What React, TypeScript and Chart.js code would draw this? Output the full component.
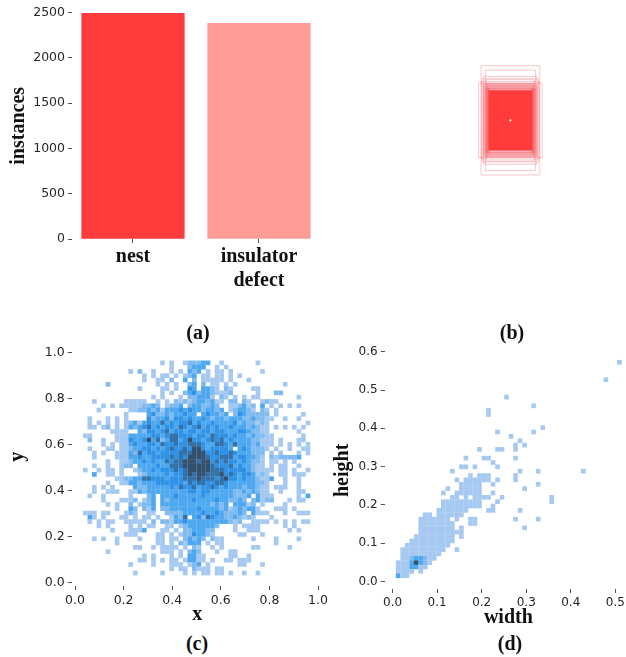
import React, { useEffect, useRef } from "react";
import { Chart, registerables } from "chart.js";

Chart.register(...registerables);

const SERIF = "'Liberation Serif', serif";
const SANS = "'DejaVu Sans', sans-serif";
const INK = "#262626";

// (a) instances per class
const categories: (string | string[])[] = ["nest", ["insulator", "defect"]];
const instances = [2492, 2382];
const barColors = ["#ff3b3b", "#ff9c97"];
const instanceTicks = [0, 500, 1000, 1500, 2000, 2500];

// (b) box sizes, as fractions of the image, all centred
const boxWidths = [0.277, 0.236, 0.25, 0.264, 0.3, 0.273, 0.25, 0.227, 0.255, 0.236, 0.245, 0.227, 0.218, 0.214, 0.236, 0.223, 0.209, 0.227, 0.218, 0.209, 0.2, 0.214];
const boxHeights = [0.514, 0.473, 0.414, 0.391, 0.35, 0.364, 0.345, 0.382, 0.336, 0.327, 0.318, 0.336, 0.345, 0.318, 0.3, 0.3, 0.327, 0.309, 0.291, 0.3, 0.309, 0.282];
const coreBox = [0.205, 0.28];

// (c) x/y histogram, read top row first; digit = colour level
const xyRows = [
  "..... ..... ..... ..1.1 ..122 233.. 1.... ...1. ..... .....",
  "..... ..... ..... ....1 ...23 33..1 .1... ..... ..... .....",
  "..... ..... 1.2.. 1...1 .1.32 3.1.1 1.1.. ....1 ..... .....",
  "..... ..... ...1. 1.11. 1.123 .11.1 1.1.1 ..... ..... .....",
  "..... ..... ...1. .11.2 ..3.2 .1111 1.1.. .1... ..... .....",
  "..... 2.... ..... .1.1. 1..23 .2.11 .1.1. ..... ....1 .....",
  "..... ..... ..1.. ..11. 1..43 .3321 .21.. ..11. ..... .....",
  "..... ..... ..... ..1.1 ..234 23321 112.. ...1. ..22. .....",
  "..... ..... ..... 1.1.. .1.22 3331. 21.1. 1.11. ..... ..1..",
  "..1.. ....1 1111. .1.1. 21212 33231 1.22. 21..1 211.. .....",
  "....1 .1.11 1112232.12 23.2332232 ..112312.3 .1.1. 1.1..",
  "...1. ..... 1122323133 3434332332 3.123321.2 1.1.. .....",
  "..... ....1 ....342232 33433.3433 23.2432222 2.1.. ...1.",
  ".1... 1.1.1 ....423342 4434334323 3233322322 11..1 ..1..",
  ".1.1. 1.1.1 2313433534 3445343343 3334232212 1.... ....1",
  ".11.1 2.1.1 3234534344 3543453434 3343332321 1.1.1 .1.1.",
  "..... .1111 ..32443453 4434434434 4333443221 1.... ..1..",
  "11... ..111 3333344345 5444344354 4434332322 11... ...1.",
  ".2..1 ..111 4334635235 5346443454 5343333221 11.1. ..11.",
  "....1 .1.11 3433443544 5445554335 5435333231 11.1. 1.1.1",
  ".1... 11.11 2334434345 4454664344 443.343222 1.1.. 1..11",
  "..1.1 ..111 3253443444 4555666445 4454333222 .1.1. ..1.1",
  "..1.. ..111 3343344445 4546666544 5553443321 .2122 223..",
  "..... 1..11 2334343354 5566656645 4544343221 .11.1 .1...",
  "..1.. 1..12 2.33334335 5566666654 4453433211 .1.11 ..1..",
  "1..1. 11.1. .123343444 5456666655 5444443211 11.11 .1..1",
  "..3.. 11.1. ..12333343 4456566555 6454344312 1..11 .111.",
  "..... ..112 2335544434 4455565554 5644343321 13..1 ..1..",
  "..... 1..11 3323334444 4435455445 5433333322 1...1 ..1..",
  "..1.1 .1... .322333334 3544534454 3433323321 1.111 ..1..",
  "..1.. 111.. 1132333333 3334434433 3332232321 1..1. ..11.",
  ".1..1 ..... 1...23.333 4333334333 3332223.31 11... ..1.3",
  "....1 ...11 12.123.323 3333433334 332232.231 22... 1.11.",
  "..... 1.1.. 2.1223.333 3333333323 23.33312.1 ....1 .....",
  "..... ..1.. 32.213.223 3333343333 231232331. ..111 .1...",
  "111.1 1...1 21..11..22 2233334334 322232.311 1...1 ..111",
  ".31.1 ...11 .1.11.1..1 325.342543 32232121.. .1... .....",
  ".1.1. 11..1 1111. 2.221 33433 33333 33212 ..111 1.1.1 .1.11",
  "...1. 1.... 1.1.1 1..11 .1233 33332 ...1. 1111. ....1 .1...",
  "..... .1... 1113. ..11. 1.223 3322. ...1. .111. ..... 1.1..",
  "..... ....1 11... .11.1 .1224 3321. ....1 1...1 ..... .....",
  "..1.1 ..1.. ..1.. .11.1 1.232 32.21 1.... ..1.. ..1.. ..1..",
  "..... ..1.. ..... .11.1 .2133 3.1.1 1.... ..... ..1.. .....",
  "..... ..... .11.. 1.111 1.1.2 1..1. 1.... ..11. ..... 1....",
  "..... 1.... ..... ..111 .1.23 2...1 ..11. ..... ..... .....",
  "..... ..... ...1. 1...1 .1.33 11... ..11. .1... ..... .....",
  "..... ..... ..11. 1.1.1 1.133 11.1. .11.1 11... ..... .....",
  "..... ..... 1.... 1...1 11.12 3.1.. ....1 1...1 ..... .....",
  "..... ..... ..... ....1 .11.2 111.1 1.... ..... ..... .....",
  "..... ..... .1... ..1.. ..1.1 .11.1 1.1.. 1..1. ..... .....",
];

// (d) width/height histogram, read top row first
const whRows = [
  ".......... .......... .......... .......... .........1",
  "",
  "",
  "",
  ".......... .......... .......... .......... ......1",
  "",
  "",
  "",
  ".......... .......... ....1",
  "",
  ".......... .......... .......... 1",
  ".......... .......... 1",
  ".......... .......... 1",
  "",
  "",
  ".......... .......... .......... ..1",
  ".......... .......... ..1....... 1",
  ".......... .......... .....1",
  ".......... .......... .......1",
  ".......... .......... ......1.1",
  ".......... ........1. ..11..1",
  "",
  ".......... .....1...1 1.....1",
  ".......... .......... .1",
  ".......... ....11.1.. ..1",
  ".......... ..1....... .......1.. .1........ .1",
  ".......... ......1.11 1.....1",
  ".......... ...1.11111 1.1...1",
  ".......... ....11111. .1........ .1",
  ".......... .1..11111. ........1",
  ".......... 1..111111. .1",
  ".......... ..11.1.111 1..1...... ....1",
  ".......... 111111111. ..1....... ....1",
  ".......... 111111111. .1",
  ".........1 111111.... 11.....1",
  "......11.1 11111",
  ".....11111 11.1..11.. ......1... .1",
  ".....11111 111...11",
  ".....11111 111.1..... ........1",
  ".....11111 11111",
  "....111111 111.1",
  "...1111111 111",
  "..11111111 11",
  ".111111111 1..1",
  ".111111111",
  ".11233211",
  "11136321",
  "1113311",
  "1111.1",
  "311",
];

const levelColors = ["#a6c9f1", "#7fbaf0", "#4da8f0", "#2f92e6", "#3271a9", "#34506f"];

const xyUnit = ["0.0", "0.2", "0.4", "0.6", "0.8", "1.0"].map(Number);
const widthTicks = [0, 0.1, 0.2, 0.3, 0.4, 0.5];
const heightTicks = [0, 0.1, 0.2, 0.3, 0.4, 0.5, 0.6];

const captions = [
  { text: "(a)", x: 198, y: 332 },
  { text: "(b)", x: 512, y: 332 },
  { text: "(c)", x: 197, y: 643 },
  { text: "(d)", x: 510, y: 643 },
];

type Cell = { x: number; y: number; level: number };

function cellsFrom(rows: string[], x0: number, dx: number, yTop: number, dy: number): Cell[] {
  const out: Cell[] = [];
  rows.forEach((row, j) => {
    row
      .replace(/ /g, "")
      .split("")
      .forEach((c, i) => {
        if (c !== ".") out.push({ x: x0 + dx * (i + 0.5), y: yTop - dy * (j + 0.5), level: Number(c) });
      });
  });
  return out;
}

const tickStyle = { size: 12.5, family: SANS };
const titleFont = { size: 20, weight: "bold" as const, family: SERIF };

function axisBase(ticksAt: number[], min: number, max: number, digits: number, fixed: number, horizontal: boolean, fontSize = 12.5, pad = 3) {
  return {
    type: "linear" as const,
    min,
    max,
    offset: false,
    border: { display: false },
    grid: { offset: false, drawOnChartArea: false, drawTicks: true, tickLength: 4, tickColor: "#555", tickWidth: 1 },
    ticks: {
      color: INK,
      font: { ...tickStyle, size: fontSize },
      padding: pad,
      autoSkip: false,
      maxRotation: 0,
      callback: (v: any) => Number(v).toFixed(digits),
    },
    afterBuildTicks: (s: any) => {
      s.ticks = ticksAt.map((value) => ({ value }));
    },
    afterFit: (s: any) => {
      if (horizontal) {
        s.height = fixed;
        s.paddingLeft = 0;
        s.paddingRight = 0;
      } else {
        s.width = fixed;
        s.paddingTop = 0;
        s.paddingBottom = 0;
      }
    },
  };
}

function useChart(make: (canvas: HTMLCanvasElement) => Chart) {
  const ref = useRef<HTMLCanvasElement | null>(null);
  useEffect(() => {
    const c = make(ref.current!);
    return () => c.destroy();
  }, []);
  return ref;
}

const baseOptions = {
  responsive: false,
  animation: false as const,
  events: [] as any[],
  plugins: { legend: { display: false }, tooltip: { enabled: false }, title: { display: false } },
};

function heatChart(canvas: HTMLCanvasElement, cells: Cell[], side: number, padding: any, x: any, y: any) {
  return new Chart(canvas, {
    type: "scatter",
    data: {
      datasets: [
        {
          data: cells as any,
          pointStyle: "rect",
          pointRadius: side * Math.SQRT2 * 0.5,
          pointBorderWidth: 0,
          pointBackgroundColor: cells.map((c) => levelColors[c.level - 1]),
        },
      ],
    },
    options: { ...baseOptions, layout: { padding }, scales: { x, y }, clip: false } as any,
  });
}

export default function App() {
  const barRef = useChart((canvas) => {
    const x = axisBase([0, 1], -0.484, 1.5, 0, 61, true);
    x.ticks.callback = (v: any) => categories[Number(v)] as any;
    (x.ticks as any).font = titleFont;
    (x.ticks as any).color = "#111";
    x.ticks.padding = 2;
    const y = axisBase(instanceTicks, 0, 2500, 0, 72, false);
    (y as any).title = { display: true, text: "instances", color: "#111", font: titleFont, padding: { top: 7, bottom: 0 } };
    return new Chart(canvas, {
      type: "bar",
      data: {
        datasets: [
          {
            data: instances.map((v, i) => ({ x: i, y: v })) as any,
            backgroundColor: barColors,
            barThickness: 102.6,
          },
        ],
      },
      options: { ...baseOptions, layout: { padding: { top: 12.7, right: 18, bottom: 0, left: 0 } }, scales: { x, y } } as any,
    });
  });

  const boxRef = useChart((canvas) => {
    const corners = (w: number, h: number) => [
      { x: -w / 2, y: -h / 2 },
      { x: w / 2, y: -h / 2 },
      { x: w / 2, y: h / 2 },
      { x: -w / 2, y: h / 2 },
      { x: -w / 2, y: -h / 2 },
    ];
    const outlines = boxWidths.map((w, i) => ({
      type: "scatter" as const,
      data: corners(w, boxHeights[i]),
      showLine: true,
      borderColor: "rgba(240,70,80,0.3)",
      borderWidth: 1,
      pointRadius: 0,
      fill: false,
      tension: 0.00001,
      order: 2,
    }));
    return new Chart(canvas, {
      type: "scatter",
      data: {
        datasets: [
          { data: [{ x: 0, y: 0 }], pointRadius: 1.1, pointBackgroundColor: "#fff", pointBorderWidth: 0, order: 0 },
          {
            data: corners(coreBox[0], coreBox[1]),
            showLine: true,
            fill: "shape",
            backgroundColor: "#ff3b3b",
            borderColor: "rgba(255,59,59,0.6)",
            borderWidth: 2,
            pointRadius: 0,
            tension: 0.00001,
            order: 1,
          },
          ...outlines,
        ] as any,
      },
      options: {
        ...baseOptions,
        layout: { padding: 0 },
        scales: {
          x: { type: "linear", display: false, min: -0.5014, max: 0.5259 },
          y: { type: "linear", display: false, min: -0.544, max: 0.547 },
        },
      } as any,
    });
  });

  const xyRef = useChart((canvas) => {
    const x = axisBase(xyUnit, -0.0136, 1, 1, 41, true);
    (x as any).title = { display: true, text: "\u00a0x", color: "#111", font: titleFont, padding: 0 };
    const y = axisBase(xyUnit, -0.0143, 1, 1, 71.7, false);
    (y as any).title = {
      display: true,
      text: "\u00a0\u00a0\u00a0\u00a0\u00a0y",
      color: "#111",
      font: titleFont,
      padding: { top: 6, bottom: 0 },
    };
    return heatChart(canvas, cellsFrom(xyRows, 0.033, 0.0187, 0.9635, 0.01862), 4.65, { top: 12.3, right: 12, bottom: 0, left: 0 }, x, y);
  });

  const whRef = useChart((canvas) => {
    const x = axisBase(widthTicks, -0.0178, 0.515, 1, 41, true, 12);
    (x as any).title = { display: true, text: "\u00a0\u00a0width", color: "#111", font: titleFont, padding: 0 };
    const y = axisBase(heightTicks, -0.0193, 0.6, 1, 59.7, false, 12);
    (y as any).title = { display: true, text: "height", color: "#111", font: titleFont, padding: { top: 6, bottom: 0 } };
    return heatChart(canvas, cellsFrom(whRows, 0.00735, 0.01014, 0.5781, 0.01137), 4.65, { top: 11.7, right: 2, bottom: 0, left: 0 }, x, y);
  });

  const abs = (l: number, t: number): React.CSSProperties => ({ position: "absolute", left: l, top: t, display: "block" });

  return (
    <div style={{ position: "absolute", left: 0, top: 0, width: 626, height: 657, overflow: "hidden", background: "#fff" }}>
      <canvas ref={barRef} width={340} height={300} style={abs(0, 0)} />
      <canvas ref={boxRef} width={226} height={240} style={abs(400, 0)} />
      <canvas ref={xyRef} width={330} height={287} style={abs(0, 340)} />
      <canvas ref={whRef} width={301} height={290} style={abs(325, 340)} />
      {captions.map((c) => (
        <div
          key={c.text}
          style={{
            position: "absolute",
            left: c.x,
            top: c.y,
            transform: "translate(-50%,-50%)",
            font: `bold 20px ${SERIF}`,
            color: "#111",
            whiteSpace: "nowrap",
          }}
        >
          {c.text}
        </div>
      ))}
    </div>
  );
}
